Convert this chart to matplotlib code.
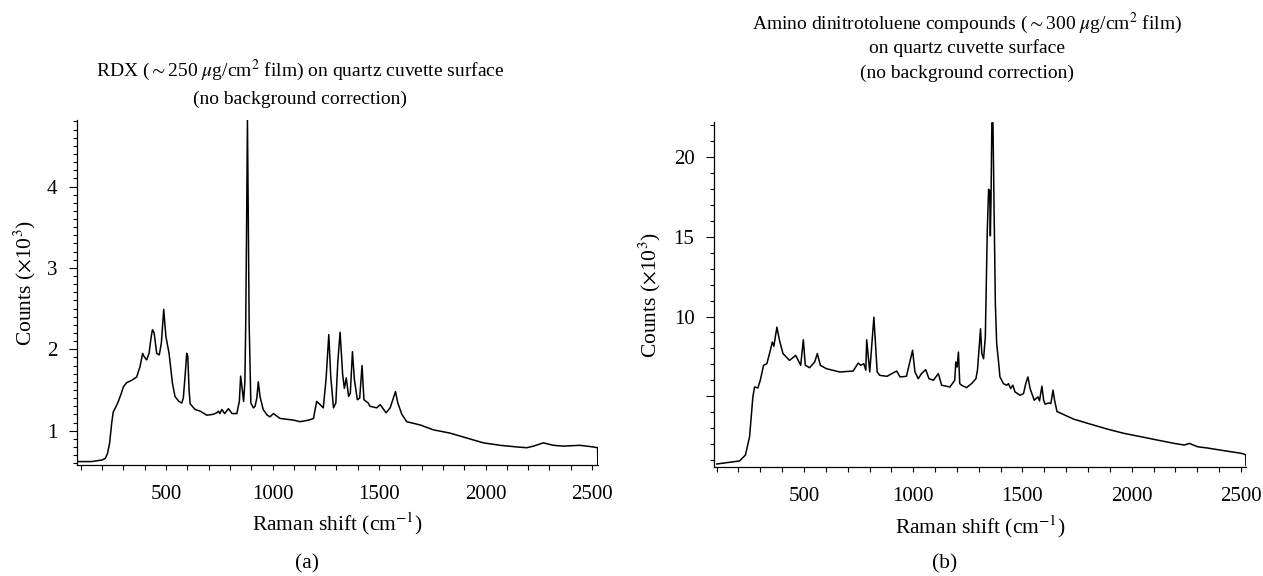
import matplotlib
matplotlib.use('Agg')
import matplotlib.pyplot as plt
from matplotlib.ticker import MultipleLocator, FixedLocator

plt.rcParams['font.family'] = ['Liberation Serif', 'DejaVu Serif']
plt.rcParams['mathtext.fontset'] = 'stix'

# (a) RDX spectrum, counts x10^3
rdx_shift = [90, 150, 200, 215, 225, 235, 245, 252, 262, 276, 290, 300, 315, 323, 340, 362,
             378, 390, 397, 409, 420, 430, 436, 444, 456, 468, 478, 489, 499, 514, 530, 542,
             560, 574, 581, 590, 597, 602, 608, 613, 636, 660, 691, 720, 738, 746, 752, 762,
             775, 793, 810, 832, 844, 850, 858, 864, 870, 874, 878, 882, 886, 890, 898, 910,
             918, 926, 933, 941, 956, 975, 988, 1004, 1035, 1098, 1129, 1170, 1192, 1207,
             1223, 1238, 1251, 1264, 1273, 1286, 1297, 1306, 1317, 1329, 1337, 1346, 1357,
             1365, 1375, 1384, 1398, 1409, 1420, 1429, 1449, 1457, 1489, 1505, 1533, 1552,
             1567, 1577, 1588, 1607, 1630, 1693, 1755, 1833, 1911, 1990, 2068, 2146, 2193,
             2225, 2271, 2318, 2365, 2443, 2505, 2526, 2527]
rdx_counts = [0.62, 0.62, 0.64, 0.66, 0.72, 0.85, 1.10, 1.23, 1.28, 1.36, 1.46, 1.54, 1.59,
              1.60, 1.62, 1.66, 1.79, 1.95, 1.91, 1.87, 1.95, 2.15, 2.24, 2.20, 1.95, 1.93,
              2.08, 2.49, 2.16, 1.95, 1.58, 1.42, 1.36, 1.34, 1.40, 1.70, 1.95, 1.91, 1.50,
              1.33, 1.26, 1.24, 1.19, 1.20, 1.22, 1.24, 1.21, 1.26, 1.21, 1.27, 1.21, 1.21,
              1.36, 1.67, 1.50, 1.36, 1.60, 2.32, 3.50, 4.82, 3.60, 2.32, 1.34, 1.28, 1.30,
              1.40, 1.60, 1.42, 1.26, 1.19, 1.17, 1.21, 1.15, 1.13, 1.11, 1.13, 1.15, 1.36,
              1.32, 1.28, 1.63, 2.18, 1.67, 1.28, 1.34, 1.83, 2.21, 1.69, 1.52, 1.65, 1.42,
              1.46, 1.97, 1.63, 1.38, 1.40, 1.80, 1.38, 1.34, 1.30, 1.28, 1.32, 1.22, 1.28,
              1.40, 1.48, 1.34, 1.20, 1.11, 1.07, 1.01, 0.97, 0.91, 0.85, 0.82, 0.80, 0.79,
              0.81, 0.85, 0.82, 0.81, 0.82, 0.80, 0.79, 0.58]

# (b) amino dinitrotoluene spectrum, counts x10^3
adnt_shift = [101, 205, 232, 251, 266, 274, 289, 300, 315, 330, 346, 355, 362, 376, 388, 404,
              434, 462, 485, 497, 506, 526, 549, 561, 575, 602, 664, 725, 748, 760, 774, 783,
              787, 801, 820, 835, 847, 880, 924, 940, 969, 997, 1008, 1023, 1038, 1057, 1072,
              1092, 1115, 1130, 1168, 1190, 1195, 1201, 1207, 1213, 1221, 1244, 1267, 1287,
              1294, 1302, 1308, 1314, 1322, 1330, 1339, 1345, 1350, 1353, 1356, 1360, 1365,
              1370, 1376, 1382, 1390, 1397, 1413, 1428, 1436, 1446, 1456, 1466, 1489, 1505,
              1515, 1525, 1535, 1554, 1571, 1578, 1589, 1597, 1604, 1620, 1630, 1640, 1647,
              1658, 1735, 1811, 1888, 1965, 2042, 2118, 2195, 2241, 2264, 2302, 2348, 2425,
              2502, 2522, 2523]
adnt_counts = [0.75, 0.94, 1.31, 2.46, 4.96, 5.58, 5.52, 6.00, 6.94, 7.04, 7.88, 8.40, 8.13,
               9.33, 8.50, 7.67, 7.25, 7.56, 6.94, 8.54, 6.94, 6.79, 7.15, 7.67, 6.94, 6.73,
               6.52, 6.58, 7.08, 6.94, 7.04, 6.63, 8.54, 6.52, 9.96, 6.52, 6.31, 6.25, 6.58,
               6.21, 6.25, 7.88, 6.52, 6.10, 6.42, 6.67, 6.10, 6.00, 6.42, 5.69, 5.58, 6.00,
               7.15, 6.83, 7.77, 5.79, 5.69, 5.54, 5.79, 6.10, 6.63, 8.08, 9.23, 7.67, 7.35,
               8.71, 15.38, 17.98, 17.88, 15.06, 17.25, 22.15, 22.15, 16.83, 10.79, 8.29,
               7.25, 6.21, 5.79, 5.69, 5.79, 5.48, 5.69, 5.27, 5.06, 5.17, 5.79, 6.21, 5.48,
               4.75, 4.96, 4.71, 5.63, 4.75, 4.50, 4.58, 4.54, 5.38, 4.75, 4.04, 3.56, 3.25,
               2.94, 2.67, 2.46, 2.25, 2.04, 1.94, 2.04, 1.83, 1.75, 1.58, 1.42, 1.33, 0.65]

x_major = [500, 1000, 1500, 2000, 2500]

fs_tick = 15
fs_lab = 15.5
fs_title = 14
fig = plt.figure(figsize=(12.63, 5.76), dpi=100)
ax1 = fig.add_axes([0.061, 0.193, 0.4125, 0.599])
ax2 = fig.add_axes([0.5653, 0.1892, 0.4212, 0.599])

ax1.plot(rdx_shift, rdx_counts, color='black', lw=1.1)
ax2.plot(adnt_shift, adnt_counts, color='black', lw=1.1)

ax1.set_xlim(82, 2528)
ax1.set_ylim(0.58, 4.82)
ax2.set_xlim(88, 2523)
ax2.set_ylim(0.56, 22.2)

ax1.yaxis.set_major_locator(FixedLocator([1, 2, 3, 4]))
ax1.yaxis.set_minor_locator(MultipleLocator(0.1))
ax2.yaxis.set_major_locator(FixedLocator([5, 10, 15, 20]))
ax2.set_yticklabels(['', '10', '15', '20'])
ax2.yaxis.set_minor_locator(MultipleLocator(1))

for ax in (ax1, ax2):
    ax.xaxis.set_major_locator(FixedLocator(x_major))
    ax.xaxis.set_minor_locator(MultipleLocator(100))
    ax.spines['top'].set_visible(False)
    ax.spines['right'].set_visible(False)
    for s in ('left', 'bottom'):
        ax.spines[s].set_linewidth(0.9)
    ax.tick_params(axis='x', which='both', direction='out', length=3.5, width=0.8,
                   pad=11, labelsize=fs_tick)
    ax.tick_params(axis='y', which='major', direction='out', length=6, width=0.8,
                   pad=8, labelsize=fs_tick)
    ax.tick_params(axis='y', which='minor', direction='out', length=3, width=0.8)
    ax.set_xlabel(r'Raman shift (cm$^{-1}$)', fontsize=fs_lab, labelpad=5)

fig.text(25 / 1263, 1 - 283 / 576, r'Counts ($\times$10$^3$)', rotation=90,
         ha='center', va='center', fontsize=fs_lab)
fig.text(650 / 1263, 1 - 295 / 576, r'Counts ($\times$10$^3$)', rotation=90,
         ha='center', va='center', fontsize=fs_lab)

fig.text(300 / 1263, 1 - 70 / 576,
         r'RDX ($\sim$250 $\mu$g/cm$^2$ film) on quartz cuvette surface',
         ha='center', va='center', fontsize=fs_title)
fig.text(300 / 1263, 1 - 99 / 576, '(no background correction)',
         ha='center', va='center', fontsize=fs_title)

fig.text(967 / 1263, 1 - 23 / 576,
         r'Amino dinitrotoluene compounds ($\sim$300 $\mu$g/cm$^2$ film)',
         ha='center', va='center', fontsize=fs_title)
fig.text(967 / 1263, 1 - 48 / 576, 'on quartz cuvette surface',
         ha='center', va='center', fontsize=fs_title)
fig.text(967 / 1263, 1 - 73 / 576, '(no background correction)',
         ha='center', va='center', fontsize=fs_title)

fig.text(307 / 1263, 1 - 564 / 576, '(a)', ha='center', va='center', fontsize=fs_lab)
fig.text(945 / 1263, 1 - 564 / 576, '(b)', ha='center', va='center', fontsize=fs_lab)

fig.savefig('out.png', dpi=100)
